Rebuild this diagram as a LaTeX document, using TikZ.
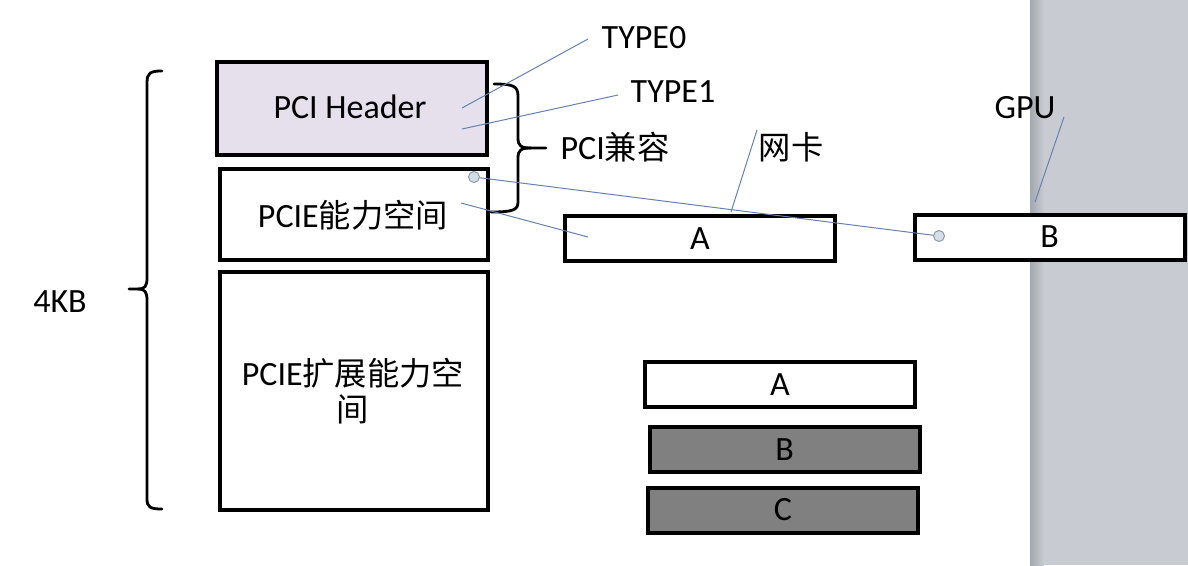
\documentclass[tikz,border=0pt]{standalone}
\usepackage{fontspec}
\setmainfont{Carlito}
\newfontfamily\cjkfont[Scale=0.95]{Noto Sans CJK SC}
\newcommand\zh[1]{{\cjkfont #1}}
\definecolor{panelgrey}{HTML}{C8CBD2}
\definecolor{paneledge}{HTML}{A3A7AE}
\definecolor{headerfill}{HTML}{E5E0EC}
\definecolor{blockgrey}{HTML}{808080}
\definecolor{leader}{HTML}{6583B2}
\definecolor{dotfill}{HTML}{D3DEE6}
\definecolor{dotdraw}{HTML}{8D9BA6}
\begin{document}
\begin{tikzpicture}[x=1pt,y=-1pt,
  every node/.style={font=\fontsize{34}{36}\selectfont},
  memblock/.style={draw=black, line width=4pt, inner sep=0pt, align=center},
  bar/.style={draw=black, line width=4pt, inner sep=0pt, minimum width=270pt, minimum height=45pt},
  leaderline/.style={draw=leader, line width=1pt},
  dot/.style={circle, draw=dotdraw, fill=dotfill, line width=1pt, minimum size=11pt, inner sep=0pt},
  bracepath/.style={draw=black, line width=2.8pt, line cap=round, line join=round},
  lbl/.style={inner sep=0pt}]
\useasboundingbox (0,0) rectangle (1188,565);
\fill[white] (0,0) rectangle (1188,565);
% grey side panel
\fill[panelgrey] (1030,0) rectangle (1188,565);
\shade[left color=paneledge, right color=panelgrey] (1030,0) rectangle (1044,565);

% memory blocks
\node[memblock, fill=headerfill, minimum width=270pt, minimum height=93pt] (hdr) at (352,108.5) {};
\node[lbl] (hdrtext) at (350,107) {PCI Header};
\node[memblock, fill=white, minimum width=268pt, minimum height=91pt] (cap) at (354,214.5) {};
\node[lbl] (captext) at (353,215) {PCIE\zh{能力空间}};
\node[memblock, fill=white, minimum width=268pt, minimum height=238pt] (ext) at (354,391) {};
\node[lbl, align=center] (exttext) at (353,391) {PCIE\zh{扩展能力空}\\\zh{间}};

% right bars
\node[bar, fill=white] (ba) at (700,238.5) {A};
\node[bar, fill=white] (bb) at (1049.5,237) {B};
\node[bar, fill=white] (a2) at (780,384.5) {A};
\node[bar, fill=blockgrey] (b2) at (784.5,449.5) {B};
\node[bar, fill=blockgrey] (c2) at (783,510) {C};

% labels
\node[lbl] (type0) at (644,38) {TYPE0};
\node[lbl] (type1) at (673,92) {TYPE1};
\node[lbl] (pcicompat) at (615,147) {PCI\zh{兼容}};
\node[lbl] (nic) at (791,147) {\zh{网卡}};
\node[lbl] (gpu) at (1025,108) {GPU};
\node[lbl] (kb) at (60,302) {4KB};

% braces
\path[bracepath] (162,71) .. controls (150,71) and (147,73) .. (147,83) -- (147,278)
  .. controls (147,286) and (145,289) .. (138,289) -- (129,289);
\path[bracepath] (138,289) .. controls (145,289) and (147,292) .. (147,300) -- (147,499)
  .. controls (147,507) and (150,509) .. (162,509);
\path[bracepath] (494,84) .. controls (513,84) and (518,86) .. (518,96) -- (518,138)
  .. controls (518,146) and (521,148) .. (531,148) -- (546,148);
\path[bracepath] (531,148) .. controls (521,148) and (518,150) .. (518,158) -- (518,202)
  .. controls (518,210) and (513,212) .. (491,212);

% leader lines
\coordinate (t0a) at (462,108);
\coordinate (t0b) at (588,39);
\coordinate (t1a) at (462,129);
\coordinate (t1b) at (618,95);
\coordinate (capa) at (461,203);
\coordinate (capb) at (588,237);
\coordinate (nica) at (731,212);
\coordinate (nicb) at (757,130);
\coordinate (gpua) at (1035,202);
\coordinate (gpub) at (1064,117);
\draw[leaderline] (t0a) -- (t0b);
\draw[leaderline] (t1a) -- (t1b);
\draw[leaderline] (capa) -- (capb);
\draw[leaderline] (nica) -- (nicb);
\draw[leaderline] (gpua) -- (gpub);

% connector with round ends
\node[dot] (d1) at (474,177) {};
\node[dot] (d2) at (939,236) {};
\draw[leaderline] (d1) -- (d2);
\end{tikzpicture}
\end{document}
